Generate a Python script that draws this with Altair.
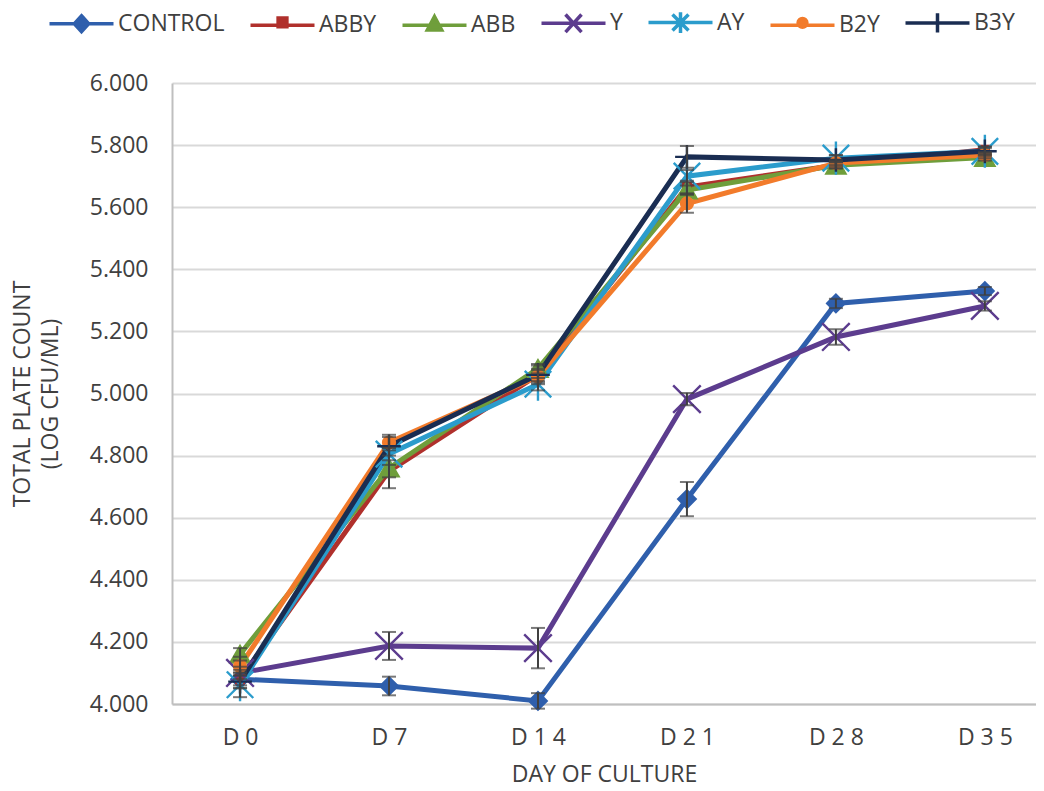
import altair as alt
import pandas as pd

DAYS = ["D0", "D7", "D14", "D21", "D28", "D35"]
SERIES = ["CONTROL", "ABBY", "ABB", "Y", "AY", "B2Y", "B3Y"]

CONTROL = [4.080, 4.058, 4.010, 4.660, 5.290, 5.330]
ABBY = [4.080, 4.750, 5.060, 5.665, 5.735, 5.785]
ABB = [4.160, 4.760, 5.080, 5.655, 5.735, 5.760]
Y = [4.100, 4.187, 4.180, 4.982, 5.182, 5.282]
AY = [4.062, 4.805, 5.030, 5.700, 5.758, 5.780]
B2Y = [4.122, 4.842, 5.055, 5.612, 5.742, 5.768]
B3Y = [4.072, 4.830, 5.060, 5.762, 5.752, 5.780]

CONTROL_ERR = [0.030, 0.030, 0.025, 0.055, 0.015, 0.013]
ABBY_ERR = [0.020, 0.020, 0.020, 0.020, 0.010, 0.010]
ABB_ERR = [0.020, 0.065, 0.015, 0.015, 0.010, 0.010]
Y_ERR = [0.020, 0.045, 0.065, 0.020, 0.025, 0.015]
AY_ERR = [0.040, 0.020, 0.020, 0.020, 0.010, 0.010]
B2Y_ERR = [0.030, 0.025, 0.020, 0.030, 0.010, 0.010]
B3Y_ERR = [0.020, 0.030, 0.030, 0.035, 0.015, 0.015]

Y_TICKS = [4.0, 4.2, 4.4, 4.6, 4.8, 5.0, 5.2, 5.4, 5.6, 5.8, 6.0]

values = [CONTROL, ABBY, ABB, Y, AY, B2Y, B3Y]
errors = [CONTROL_ERR, ABBY_ERR, ABB_ERR, Y_ERR, AY_ERR, B2Y_ERR, B3Y_ERR]

rows = []
for si, (name, vals, errs) in enumerate(zip(SERIES, values, errors)):
    for d, v, e in zip(DAYS, vals, errs):
        rows.append({"series": name, "day": d, "value": v, "err": e,
                     "lo": v - e, "hi": v + e, "ord": si})
df = pd.DataFrame(rows)

COLORS = ["#2f5fac", "#b0302c", "#6f9e3b", "#5c3c8e", "#2b9ccc", "#f27b2b", "#1a2d52"]
TEXT = "#404040"
FONT = "Open Sans"

X_PATH = "M-1,-1L1,1M-1,1L1,-1"
AST_PATH = "M-1,-1L1,1M-1,1L1,-1M0,-1.25L0,1.25"
PLUS_PATH = "M0,-1L0,1M-1,0L1,0"
plot_shapes = ["diamond", "square", "triangle-up", X_PATH, AST_PATH, "circle", PLUS_PATH]
plot_sizes = [300, 60, 360, 760, 700, 140, 560]

legend_shapes = [
    "M-4,0L4,0M0,-1L0.9,0L0,1L-0.9,0Z",
    "M-4,0L4,0M-0.55,-0.9L0.55,-0.9L0.55,0.2L-0.55,0.2Z",
    "M-4,0L4,0M0,-1.1L0.9,0.6L-0.9,0.6Z",
    "M-4,0L4,0M-1,-1.1L1,1.1M-1,1.1L1,-1.1",
    "M-4,0L4,0M-1,-1L1,1M-1,1L1,-1M0,-1.3L0,1.3",
    "M-4,0L4,0M-0.55,-0.3A0.55,0.55 0 1,0 0.55,-0.3A0.55,0.55 0 1,0 -0.55,-0.3Z",
    "M-4,0L4,0M0,-1.2L0,1.2",
]

color_scale = alt.Scale(domain=SERIES, range=COLORS)

x_enc = alt.X("day:O", scale=alt.Scale(type="point", domain=DAYS, padding=0.4, align=0.571),
              axis=alt.Axis(labelExpr="join(split(datum.label, ''), ' ')", labelAngle=0,
                            labelFontSize=23, labelFont=FONT, labelColor=TEXT, labelPadding=22,
                            ticks=False, grid=False, domainColor="#bfbfbf", domainWidth=2,
                            title="DAY OF CULTURE", titleFont=FONT, titleFontSize=23,
                            titleFontWeight="normal", titleColor=TEXT, titlePadding=14))
y_enc = alt.Y("value:Q", scale=alt.Scale(domain=[4.0, 6.0], nice=False, zero=False),
              axis=alt.Axis(values=Y_TICKS, format=".3f", labelFontSize=23, labelFont=FONT,
                            labelColor=TEXT, labelPadding=24, ticks=False,
                            domainColor="#bfbfbf", domainWidth=2,
                            gridColor="#d9d9d9", gridWidth=2,
                            title=["TOTAL PLATE COUNT", "(LOG CFU/ML)"], titleFont=FONT,
                            titleFontSize=23, titleFontWeight="normal", titleColor=TEXT,
                            titlePadding=27, titleLineHeight=28))

base = alt.Chart(df)

lines = base.mark_line(strokeWidth=5).encode(
    x=x_enc, y=y_enc,
    color=alt.Color("series:N", scale=color_scale, legend=None),
    order=alt.Order("ord:Q"),
)

points = base.mark_point(filled=True, opacity=1, strokeWidth=2.4).encode(
    x=x_enc, y=y_enc,
    color=alt.Color("series:N", scale=color_scale, legend=None),
    stroke=alt.Stroke("series:N", scale=color_scale, legend=None),
    shape=alt.Shape("series:N", scale=alt.Scale(domain=SERIES, range=plot_shapes), legend=None),
    size=alt.Size("series:N", scale=alt.Scale(type="ordinal", domain=SERIES, range=plot_sizes), legend=None),
)

err_rule = base.mark_rule(color="#404040", strokeWidth=2).encode(
    x=x_enc, y=alt.Y("lo:Q"), y2="hi:Q")
err_lo = base.mark_tick(color="#404040", thickness=2, size=14).encode(x=x_enc, y=alt.Y("lo:Q"))
err_hi = base.mark_tick(color="#404040", thickness=2, size=14).encode(x=x_enc, y=alt.Y("hi:Q"))

leg = alt.Legend(orient="none", legendX=-102, legendY=-72, direction="horizontal", columns=7,
                 title=None, symbolSize=256, symbolStrokeWidth=3.5, labelOffset=25,
                 columnPadding=18, labelFontSize=23, labelFont=FONT, labelColor=TEXT,
                 labelLimit=400, padding=0, symbolOpacity=1)

legend_layer = base.transform_filter("false").mark_point(filled=True, opacity=1, strokeWidth=3.5).encode(
    x=x_enc, y=y_enc,
    color=alt.Color("series:N", scale=color_scale, legend=leg, title=None),
    stroke=alt.Stroke("series:N", scale=color_scale, legend=leg, title=None),
    shape=alt.Shape("series:N", scale=alt.Scale(domain=SERIES, range=legend_shapes), legend=leg, title=None),
)

chart = alt.layer(lines, points, err_rule, err_lo, err_hi, legend_layer).resolve_scale(
    color="independent", stroke="independent", shape="independent", size="independent"
).properties(
    width=864, height=621, padding={"left": 3, "top": 3, "right": 0, "bottom": 0}
).configure_view(stroke=None)

chart.save("out.html", embed_options={"renderer": "svg", "actions": False})
